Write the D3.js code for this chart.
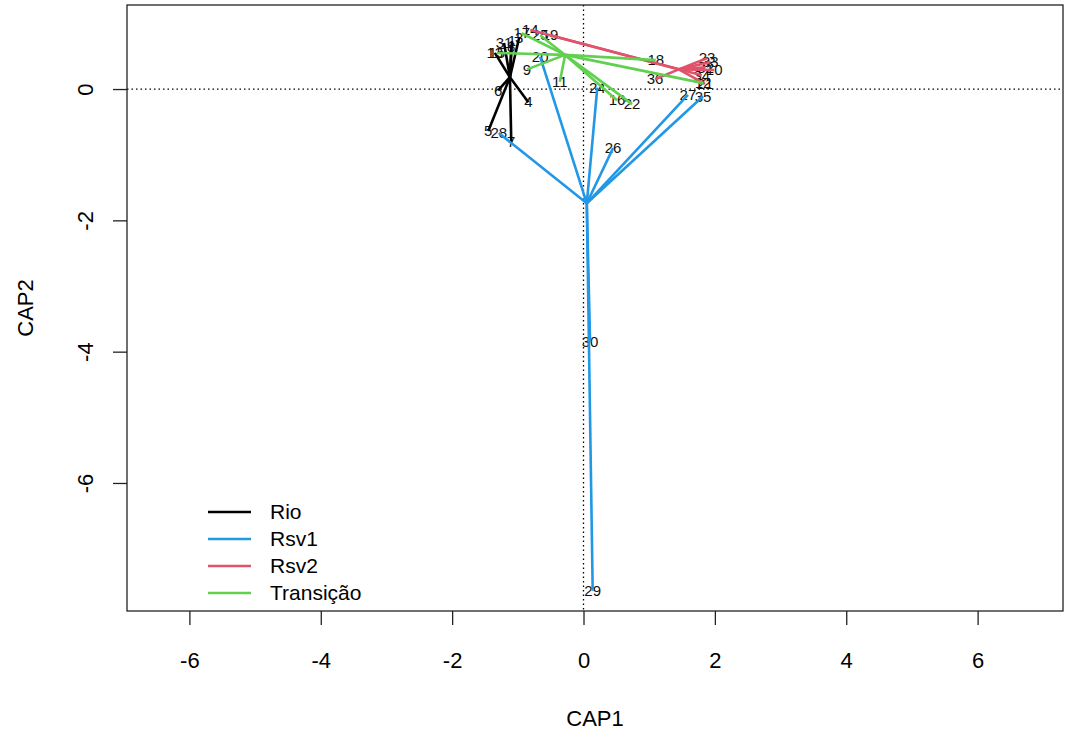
<!DOCTYPE html>
<html>
<head>
<meta charset="utf-8">
<script src="https://cdn.jsdelivr.net/npm/d3@7"></script>
<style>
  body { margin: 0; background: #fff; }
  svg { font-family: "Liberation Sans", Arial, sans-serif; }
</style>
</head>
<body>
<svg id="chart"></svg>
<script>
// groups (legend order)
const groups = ['Rio', 'Rsv1', 'Rsv2', 'Transição'];
const groupColors = ['#000000', '#2297E6', '#DF536B', '#61D04F'];

// site scores
const siteLabels = ['13', '31', '1', '3', '8', '6', '4', '5', '7',
                    '28', '20', '24', '26', '27', '35', '30', '29',
                    '14', '19', '23', '33', '32', '10', '21', '34', '36',
                    '15', '9', '11', '16', '22', '18', '12', '17', '25'];
const siteGroup = ['Rio', 'Rio', 'Rio', 'Rio', 'Rio', 'Rio', 'Rio', 'Rio', 'Rio',
                   'Rsv1', 'Rsv1', 'Rsv1', 'Rsv1', 'Rsv1', 'Rsv1', 'Rsv1', 'Rsv1',
                   'Rsv2', 'Rsv2', 'Rsv2', 'Rsv2', 'Rsv2', 'Rsv2', 'Rsv2', 'Rsv2', 'Rsv2',
                   'Transição', 'Transição', 'Transição', 'Transição', 'Transição', 'Transição', 'Transição', 'Transição', 'Transição'];
const cap1 = [-1.35, -1.21, -1.09, -0.98, -1.10, -1.30, -0.84, -1.45, -1.10,
              -1.29, -0.66, 0.21, 0.45, 1.59, 1.82, 0.10, 0.14,
              -0.81, -0.51, 1.88, 1.93, 1.86, 1.99, 1.85, 1.80, 1.09,
              -1.32, -0.86, -0.36, 0.51, 0.74, 1.10, 1.82, -0.94, -0.66];
const cap2 = [0.55, 0.70, 0.73, 0.78, 0.64, -0.02, -0.20, -0.64, -0.81,
              -0.67, 0.49, 0.02, -0.90, -0.09, -0.11, -3.85, -7.64,
              0.90, 0.82, 0.47, 0.41, 0.33, 0.29, 0.08, 0.21, 0.15,
              0.55, 0.30, 0.11, -0.17, -0.23, 0.44, 0.09, 0.85, 0.82];

// group centroids (spider centres)
const centroidCap1 = [-1.12, 0.05, 1.45, -0.28];
const centroidCap2 = [0.18, -1.74, 0.30, 0.52];

const xTicks = [-6, -4, -2, 0, 2, 4, 6];
const yTicks = [0, -2, -4, -6];

class SpiderPlot {
    constructor (config, data) {
        this.config = {
            parent: config.parent,
            width: config.width || 1065,
            height: config.height || 735,
            box: config.box || {left: 127, top: 5, right: 1063, bottom: 611},
            xlabel: config.xlabel || '',
            ylabel: config.ylabel || '',
        };
        this.data = data;
        this.init();
    }

    init() {
        let self = this;
        const b = self.config.box;

        self.svg = d3.select(self.config.parent)
            .attr('width', self.config.width)
            .attr('height', self.config.height);

        self.xscale = d3.scaleLinear()
            .domain([-6.95, 7.30])
            .range([b.left, b.right]);

        self.yscale = d3.scaleLinear()
            .domain([1.28, -7.95])
            .range([b.top, b.bottom]);

        // R style labels: plain hyphen minus
        self.xaxis = d3.axisBottom(self.xscale)
            .tickValues(xTicks)
            .tickFormat(d => String(d))
            .tickSize(14)
            .tickPadding(27);

        self.yaxis = d3.axisLeft(self.yscale)
            .tickValues(yTicks)
            .tickFormat(d => String(d))
            .tickSize(14);

        self.label_group = self.svg.append('g');
        self.line_group = self.svg.append('g');

        self.xaxis_group = self.svg.append('g')
            .attr('transform', `translate(0, ${b.bottom})`);
        self.yaxis_group = self.svg.append('g')
            .attr('transform', `translate(${b.left}, 0)`);

        self.svg.append('text')
            .style('font-size', '22px')
            .attr('x', (b.left + b.right) / 2)
            .attr('y', 726)
            .attr('text-anchor', 'middle')
            .text(self.config.xlabel);

        self.svg.append('text')
            .style('font-size', '22px')
            .attr('transform', `translate(33, ${(b.top + b.bottom) / 2}) rotate(-90)`)
            .attr('text-anchor', 'middle')
            .text(self.config.ylabel);
    }

    update() {
        let self = this;
        self.sites = self.data.labels.map((l, i) => ({
            label: l, group: self.data.group[i], x: self.data.x[i], y: self.data.y[i]
        }));
        self.centres = groups.map((g, i) => ({group: g, x: centroidCap1[i], y: centroidCap2[i]}));
        self.color = d3.scaleOrdinal().domain(groups).range(groupColors);
        self.render();
    }

    render() {
        let self = this;
        const b = self.config.box;

        // origin reference lines
        self.svg.insert('line', ':first-child')
            .attr('x1', b.left).attr('x2', b.right)
            .attr('y1', self.yscale(0)).attr('y2', self.yscale(0))
            .attr('stroke', '#000').attr('stroke-width', 1.3)
            .attr('stroke-dasharray', '1.5 3');
        self.svg.insert('line', ':first-child')
            .attr('x1', self.xscale(0)).attr('x2', self.xscale(0))
            .attr('y1', b.top).attr('y2', b.bottom)
            .attr('stroke', '#000').attr('stroke-width', 1.3)
            .attr('stroke-dasharray', '1.5 3');

        self.label_group.selectAll('text')
            .data(self.sites)
            .join('text')
            .attr('x', d => self.xscale(d.x))
            .attr('y', d => self.yscale(d.y))
            .attr('dy', '0.35em')
            .attr('text-anchor', 'middle')
            .style('font-size', '15px')
            .attr('fill', '#111')
            .text(d => d.label);

        const centreOf = g => self.centres.find(c => c.group == g);
        self.line_group.selectAll('g')
            .data(groups)
            .join('g')
            .selectAll('line')
            .data(g => self.sites.filter(s => s.group == g))
            .join('line')
            .attr('x1', d => self.xscale(centreOf(d.group).x))
            .attr('y1', d => self.yscale(centreOf(d.group).y))
            .attr('x2', d => self.xscale(d.x))
            .attr('y2', d => self.yscale(d.y))
            .attr('stroke', d => self.color(d.group))
            .attr('stroke-width', 2.6);

        self.svg.append('rect')
            .attr('x', b.left).attr('y', b.top)
            .attr('width', b.right - b.left).attr('height', b.bottom - b.top)
            .attr('fill', 'none').attr('stroke', '#222').attr('stroke-width', 1.3);

        self.xaxis_group.call(self.xaxis);
        self.xaxis_group.select('.domain').remove();
        self.xaxis_group.selectAll('text')
            .style('font-size', '22px')
            .attr('fill', '#000');
        self.xaxis_group.selectAll('line').attr('stroke', '#222').attr('stroke-width', 1.3);

        self.yaxis_group.call(self.yaxis);
        self.yaxis_group.select('.domain').remove();
        self.yaxis_group.selectAll('line').attr('stroke', '#222').attr('stroke-width', 1.3);
        self.yaxis_group.selectAll('text')
            .style('font-size', '22px')
            .attr('fill', '#000')
            .attr('x', 0)
            .attr('dy', 0)
            .attr('text-anchor', 'middle')
            .attr('transform', 'translate(-34, 0) rotate(-90)');

        // legend
        const legend = self.svg.append('g')
            .selectAll('g')
            .data(groups)
            .join('g')
            .attr('transform', (d, i) => `translate(208, ${512 + i * 27})`);
        legend.append('line')
            .attr('x1', 0).attr('x2', 43)
            .attr('stroke', d => self.color(d))
            .attr('stroke-width', 2.6);
        legend.append('text')
            .attr('x', 62)
            .attr('dy', '0.35em')
            .style('font-size', '21px')
            .text(d => d);
    }
}

const plot = new SpiderPlot({
    parent: '#chart',
    width: 1065,
    height: 735,
    xlabel: 'CAP1',
    ylabel: 'CAP2'
}, {labels: siteLabels, group: siteGroup, x: cap1, y: cap2});
plot.update();
</script>
</body>
</html>
